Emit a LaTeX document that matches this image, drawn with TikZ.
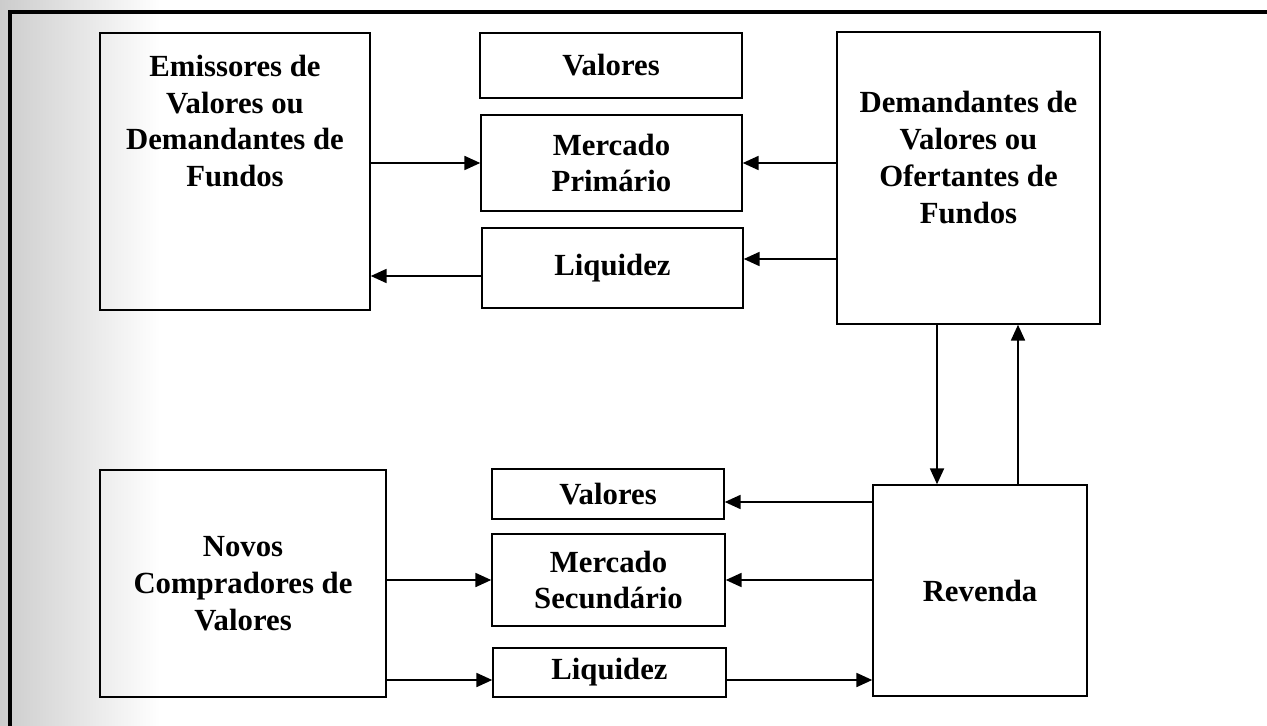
\documentclass[tikz,border=0pt]{standalone}
\usepackage{fontspec}
\setmainfont{Liberation Serif}
\usetikzlibrary{arrows.meta}

\begin{document}
\begin{tikzpicture}[x=0.02cm,y=-0.02cm,>={Triangle[length=9pt,width=8pt]},
  line width=0.9pt,
  box/.style={rectangle,draw,inner sep=0pt,align=center,font=\bfseries\fontsize{17.5}{21}\selectfont},
  box text/.style={align=center,inner sep=0pt,font=\bfseries\fontsize{17.5}{21}\selectfont}]

  \useasboundingbox (0,0) rectangle (1267,726);
  \fill[left color=gray!40,right color=white] (0,0) rectangle (160,726);
  \draw[line width=2.4pt] (10,726) -- (10,12) -- (1267,12);

  % primary market
  \node[box,minimum width=5.40cm,minimum height=5.54cm] (emis) at (235,171.5) {};
  \node[box text] (emis-txt) at (235,121) {Emissores de\\Valores ou\\Demandantes de\\Fundos};
  \node[box,minimum width=5.24cm,minimum height=1.30cm] (valA) at (611,65.5) {Valores};
  \node[box,minimum width=5.22cm,minimum height=1.92cm] (mpri) at (611.5,163) {Mercado\\Primário};
  \node[box,minimum width=5.22cm,minimum height=1.60cm] (liqA) at (612.5,268) {Liquidez};
  \node[box,minimum width=5.26cm,minimum height=5.84cm] (dem) at (968.5,178) {};
  \node[box text] (dem-txt) at (968.5,157.5) {Demandantes de\\Valores ou\\Ofertantes de\\Fundos};

  % secondary market
  \node[box,minimum width=5.72cm,minimum height=4.54cm] (novos) at (243,583.5) {Novos\\Compradores de\\Valores};
  \node[box,minimum width=4.64cm,minimum height=1.00cm] (valB) at (608,494) {Valores};
  \node[box,minimum width=4.66cm,minimum height=1.84cm] (msec) at (608.5,580) {Mercado\\Secundário};
  \node[box,minimum width=4.66cm,minimum height=0.98cm] (liqB) at (609.5,672.5) {Liquidez};
  \node[box,minimum width=4.28cm,minimum height=4.22cm] (rev) at (980,590.5) {Revenda};

  \coordinate (liqA-in) at ([yshift=0.18cm]liqA.east);
  \coordinate (liqA-out) at ([yshift=-0.16cm]liqA.west);
  \coordinate (dem-down) at ([xshift=-0.63cm]dem.south);
  \coordinate (dem-up) at ([xshift=0.99cm]dem.south);
  \coordinate (valB-in) at ([yshift=-0.16cm]valB.east);
  \coordinate (liqB-in) at ([yshift=-0.15cm]liqB.west);
  \coordinate (liqB-out) at ([yshift=-0.15cm]liqB.east);

  \path[->]
    (emis.east |- mpri) edge (mpri.west)
    (dem.west |- mpri) edge (mpri.east)
    (dem.west |- liqA-in) edge (liqA-in)
    (liqA-out) edge (liqA-out -| emis.east)
    (dem-down) edge (dem-down |- rev.north)
    (dem-up |- rev.north) edge (dem-up)
    (rev.west |- valB-in) edge (valB-in)
    (rev.west |- msec) edge (msec.east)
    (novos.east |- msec) edge (msec.west)
    (novos.east |- liqB-in) edge (liqB-in)
    (liqB-out) edge (liqB-out -| rev.west);

\end{tikzpicture}
\end{document}
